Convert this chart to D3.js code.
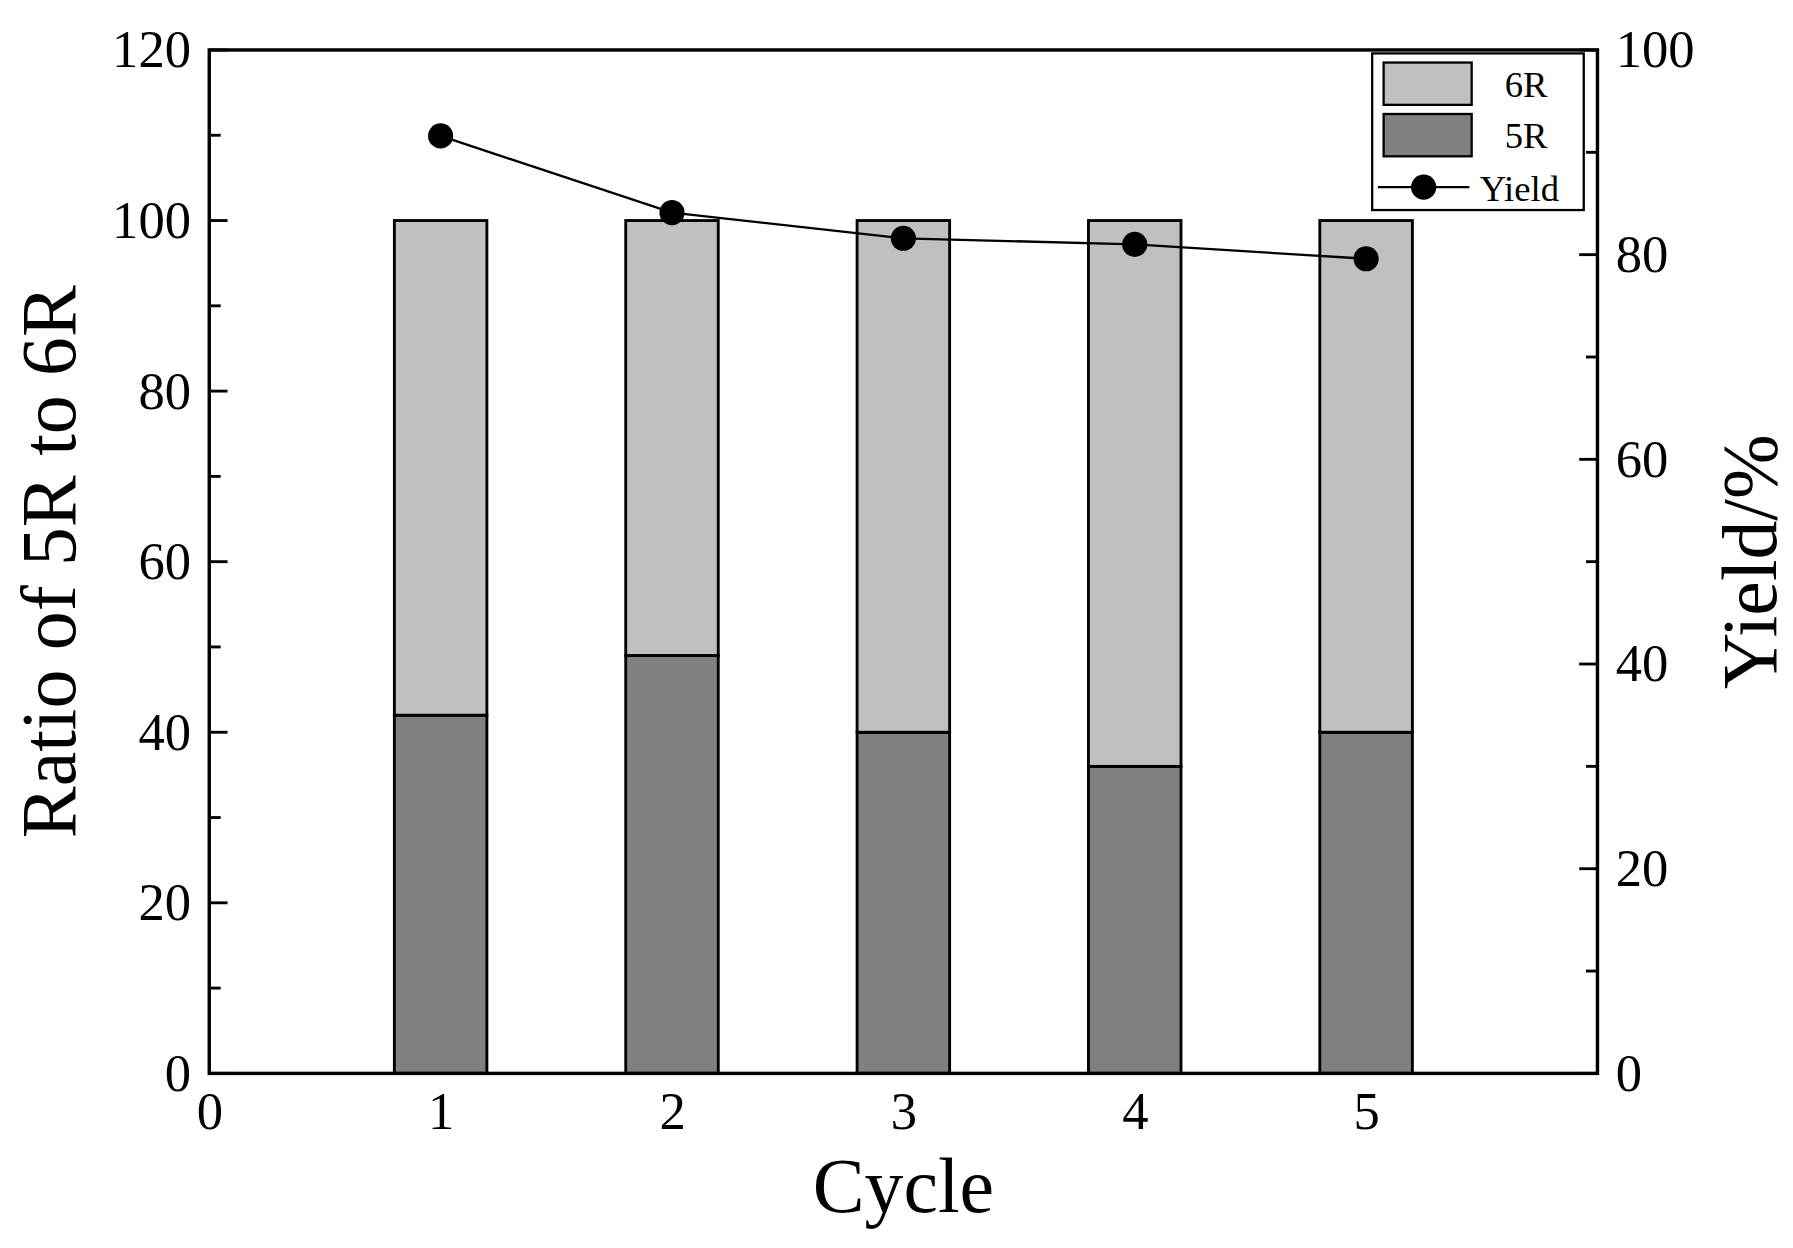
<!DOCTYPE html><html><head><meta charset="utf-8"><script src="https://cdn.jsdelivr.net/npm/d3@7"></script>
<style>body{margin:0;background:#fff}text{font-family:"Liberation Serif","Times New Roman",serif}</style></head><body>
<svg id="c" width="1793" height="1248" viewBox="0 0 1568 1088"></svg>
<script>
const cycles=[1,2,3,4,5];
const r5=[42,49,40,36,40];
const r6=[58,51,60,64,60];
const yieldVals=[91.6,84.1,81.6,81.0,79.6];
const leftTicks=[0,20,40,60,80,100,120];
const rightTicks=[0,20,40,60,80,100];
const xTicks=[0,1,2,3,4,5];
const svg=d3.select("#c");
const L=183,R=1397,T=42,B=937;
const x=d3.scaleLinear().domain([0,6]).range([L,R]);
const yL=d3.scaleLinear().domain([0,120]).range([B,T]);
const yR=d3.scaleLinear().domain([0,100]).range([B,T]);
const bw=x(0.4)-x(0);
cycles.forEach((c,i)=>{
 svg.append("rect").attr("x",x(c)-bw/2).attr("y",yL(r5[i])).attr("width",bw).attr("height",yL(0)-yL(r5[i])).attr("fill","#808080").attr("stroke","#000").attr("stroke-width",2.5);
 svg.append("rect").attr("x",x(c)-bw/2).attr("y",yL(r5[i]+r6[i])).attr("width",bw).attr("height",yL(r5[i])-yL(r5[i]+r6[i])).attr("fill","#c0c0c0").attr("stroke","#000").attr("stroke-width",2.5);
});
svg.append("path").attr("d",d3.line().x((d,i)=>x(cycles[i])).y(d=>yR(d))(yieldVals)).attr("fill","none").attr("stroke","#000").attr("stroke-width",2);
svg.selectAll("circle.p").data(yieldVals).enter().append("circle").attr("cx",(d,i)=>x(cycles[i])).attr("cy",d=>yR(d)).attr("r",11).attr("fill","#000");
svg.append("rect").attr("x",L).attr("y",T).attr("width",R-L).attr("height",B-T).attr("fill","none").attr("stroke","#000").attr("stroke-width",3);
const fs=46;
const gl=svg.append("g").attr("transform",`translate(${L},0)`).call(d3.axisLeft(yL).tickValues(leftTicks).tickSize(0).tickPadding(16).tickFormat(d3.format("d")));
const gr=svg.append("g").attr("transform",`translate(${R},0)`).call(d3.axisRight(yR).tickValues(rightTicks).tickSize(0).tickPadding(16).tickFormat(d3.format("d")));
const gb=svg.append("g").attr("transform",`translate(0,${B})`).call(d3.axisBottom(x).tickValues(xTicks).tickSize(0).tickPadding(16).tickFormat(d3.format("d")));
[gl,gr,gb].forEach(g=>{g.select(".domain").remove();g.selectAll("text").attr("font-size",fs).attr("fill","#000").style("font-family","Liberation Serif");});
d3.range(0,121,10).forEach(v=>svg.append("line").attr("x1",L).attr("x2",L+(v%20?10:16)).attr("y1",yL(v)).attr("y2",yL(v)).attr("stroke","#000").attr("stroke-width",2.5));
d3.range(0,101,10).forEach(v=>svg.append("line").attr("x1",R).attr("x2",R-(v%20?10:16)).attr("y1",yR(v)).attr("y2",yR(v)).attr("stroke","#000").attr("stroke-width",2.5));
svg.append("text").attr("x",(L+R)/2).attr("y",1058).attr("text-anchor","middle").attr("font-size",68).text("Cycle");
svg.append("text").attr("transform",`translate(66,${(T+B)/2}) rotate(-90)`).attr("text-anchor","middle").attr("font-size",68).text("Ratio of 5R to 6R");
svg.append("text").attr("transform",`translate(1553,${(T+B)/2}) rotate(-90)`).attr("text-anchor","middle").attr("font-size",68).text("Yield/%");
svg.append("rect").attr("x",1200).attr("y",45).attr("width",185).attr("height",137).attr("fill","#fff").attr("stroke","#000").attr("stroke-width",2);
svg.append("rect").attr("x",1210).attr("y",53).attr("width",77).attr("height",37).attr("fill","#c0c0c0").attr("stroke","#000").attr("stroke-width",2);
svg.append("rect").attr("x",1210).attr("y",98).attr("width",77).attr("height",37).attr("fill","#808080").attr("stroke","#000").attr("stroke-width",2);
svg.append("line").attr("x1",1205).attr("x2",1285).attr("y1",162).attr("y2",162).attr("stroke","#000").attr("stroke-width",2);
svg.append("circle").attr("cx",1245).attr("cy",162).attr("r",11).attr("fill","#000");
[["6R",83,1316],["5R",128,1316],["Yield",174,1294]].forEach(d=>svg.append("text").attr("x",d[2]).attr("y",d[1]).attr("font-size",32).text(d[0]));
</script></body></html>
